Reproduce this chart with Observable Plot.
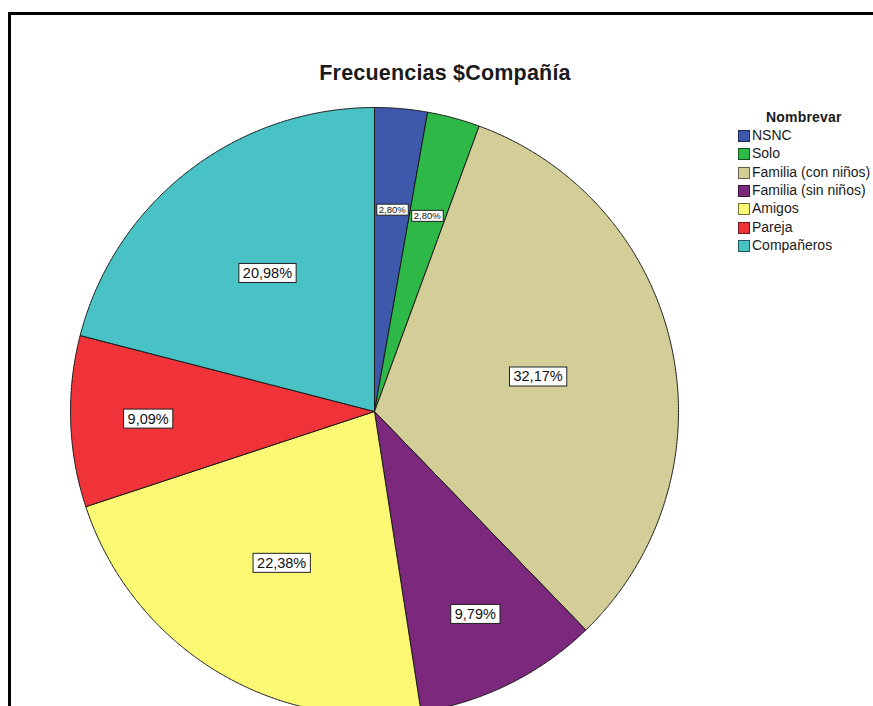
<!DOCTYPE html>
<html>
<head>
<meta charset="utf-8">
<script src="https://cdn.jsdelivr.net/npm/d3@7"></script>
<script src="https://cdn.jsdelivr.net/npm/@observablehq/plot@0.6"></script>
<style>
  html, body { margin: 0; padding: 0; background: #fff; overflow: hidden; }
  #wrap { position: relative; width: 873px; height: 706px; overflow: hidden; font-family: "Liberation Sans", Arial, sans-serif; }
  #frame { position: absolute; left: 8px; top: 12px; width: 1200px; height: 1200px; border-left: 3px solid #000; border-top: 3px solid #000; box-sizing: border-box; }
  #chart { position: absolute; left: 0; top: 0; }
  #title { position: absolute; left: 445px; top: 62px; transform: translateX(-50%); font-size: 21.5px; font-weight: bold; line-height: 22px; color: #1a1a1a; white-space: nowrap; letter-spacing: 0.2px; }
  #legend { position: absolute; left: 738px; top: 110px; font-size: 14px; color: #1a1a1a; white-space: nowrap; }
  #legend .head { position: absolute; left: 28px; top: -1px; font-weight: 900; font-size: 14px; letter-spacing: 0.2px; }
  #legend .row { position: absolute; left: 0; height: 18px; line-height: 14px; }
  #legend .sw { position: absolute; left: 0; top: 1px; width: 12px; height: 12px; border: 1px solid rgba(0,0,0,0.55); box-sizing: border-box; }
  #legend .lab { position: absolute; left: 14px; top: -1px; }
</style>
</head>
<body>
<div id="wrap">
  <div id="frame"></div>
  <div id="chart"></div>
  <div id="title">Frecuencias $Compañía</div>
  <div id="legend"></div>
</div>
<script>
// ---- data ----
const categories = ["NSNC", "Solo", "Familia (con niños)", "Familia (sin niños)", "Amigos", "Pareja", "Compañeros"];
const counts = [4, 4, 46, 14, 32, 13, 30];
const percentLabels = ["2,80%", "2,80%", "32,17%", "9,79%", "22,38%", "9,09%", "20,98%"];
const colors = ["#3E58AC", "#2EB848", "#D3CE97", "#7C287D", "#FBF873", "#EF3338", "#48C2C5"];
const legendTitle = "Nombrevar";

// ---- layout (not data) ----
const cx = 374, cy = 411, R = 304, W = 873, H = 706;
const labelRadius = [0.665, 0.665, 0.55, 0.745, 0.585, 0.745, 0.575];
const labelSize = [9.5, 9.5, 14.5, 14.5, 14.5, 14.5, 14.5];

const pie = d3.pie().sort(null).value(d => d)(counts);
const slicePts = [];
pie.forEach((p, i) => {
  const cat = categories[i];
  slicePts.push({cat, x: 0, y: 0});
  const n = Math.max(2, Math.ceil((p.endAngle - p.startAngle) / 0.005));
  for (let k = 0; k <= n; k++) {
    const a = p.startAngle + (p.endAngle - p.startAngle) * k / n;
    slicePts.push({cat, x: Math.sin(a), y: Math.cos(a)});
  }
  slicePts.push({cat, x: 0, y: 0});
});
const labels = pie.map((p, i) => {
  const a = (p.startAngle + p.endAngle) / 2;
  return {cat: categories[i], text: percentLabels[i], x: Math.sin(a) * labelRadius[i], y: Math.cos(a) * labelRadius[i], size: labelSize[i]};
});

const chart = Plot.plot({
  width: W, height: H, margin: 0,
  style: {background: "transparent", fontFamily: "'Liberation Sans', Arial, sans-serif", overflow: "visible"},
  x: {domain: [(0 - cx) / R, (W - cx) / R], axis: null},
  y: {domain: [(cy - H) / R, cy / R], axis: null},
  color: {domain: categories, range: colors},
  marks: [
    Plot.line(slicePts, {x: "x", y: "y", z: "cat", fill: "cat", stroke: "#1a1a1a", strokeWidth: 1, curve: "linear", strokeLinejoin: "round"}),
    Plot.text(labels.filter(d => d.size > 10), {x: "x", y: "y", text: "text", fontSize: 14.5, fill: "#111", className: "pielab-big"}),
    Plot.text(labels.filter(d => d.size <= 10), {x: "x", y: "y", text: "text", fontSize: 9.5, fill: "#111", className: "pielab-small"})
  ]
});
document.getElementById("chart").append(chart);

// white boxes behind percentage labels
function boxes(sel, px, py) {
  chart.querySelectorAll(sel + " text").forEach(t => {
    const b = t.getBBox();
    const r = document.createElementNS("http://www.w3.org/2000/svg", "rect");
    r.setAttribute("x", b.x - px);
    r.setAttribute("y", b.y - py);
    r.setAttribute("width", b.width + 2 * px);
    r.setAttribute("height", b.height + 2 * py);
    r.setAttribute("fill", "#fff");
    r.setAttribute("stroke", "#222");
    r.setAttribute("stroke-width", "1");
    const tr = t.getAttribute("transform");
    if (tr) r.setAttribute("transform", tr);
    t.parentNode.insertBefore(r, t);
  });
}
boxes(".pielab-big", 4, 1.5);
boxes(".pielab-small", 2, 0);

// legend
const lg = document.getElementById("legend");
const head = document.createElement("div");
head.className = "head"; head.textContent = legendTitle; lg.append(head);
categories.forEach((c, i) => {
  const row = document.createElement("div");
  row.className = "row"; row.style.top = (19 + i * 18.3) + "px";
  const sw = document.createElement("div"); sw.className = "sw"; sw.style.background = colors[i];
  const lab = document.createElement("div"); lab.className = "lab"; lab.textContent = c;
  row.append(sw, lab); lg.append(row);
});
</script>
</body>
</html>
